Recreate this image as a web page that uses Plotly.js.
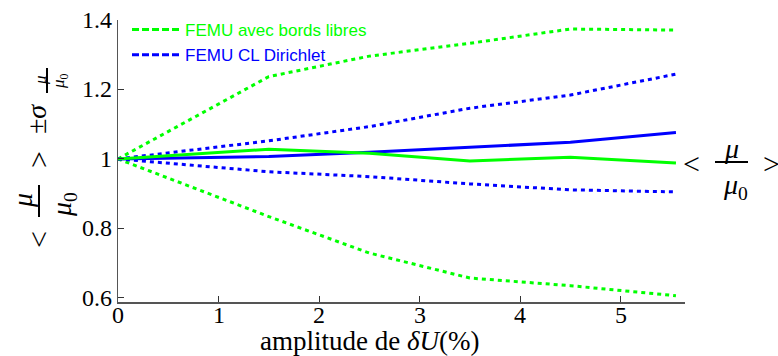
<!DOCTYPE html>
<html>
<head>
<meta charset="utf-8">
<script src="https://cdn.plot.ly/plotly-3.0.1.min.js"></script>
<style>html,body{margin:0;padding:0;background:#fff;}#chart{width:778px;height:356px;}</style>
</head>
<body>
<div id="chart"></div>
<script>
// ---- data ----
const amplitude = [0, 1.5, 2.5, 3.5, 4.5, 5.55];
const libresMean  = [1.0, 1.028, 1.016, 0.994, 1.005, 0.988];
const libresUpper = [1.0, 1.237, 1.296, 1.333, 1.374, 1.371];
const libresLower = [1.0, 0.834, 0.729, 0.657, 0.635, 0.606];
const dirichletMean  = [1.0, 1.007, 1.019, 1.033, 1.048, 1.076];
const dirichletUpper = [1.0, 1.052, 1.093, 1.146, 1.184, 1.244];
const dirichletLower = [1.0, 0.963, 0.949, 0.928, 0.911, 0.905];
const xTicks = [0, 1, 2, 3, 4, 5];
const xTickText = ['0', '1', '2', '3', '4', '5'];
const yTicks = [0.6, 0.8, 1.0, 1.2, 1.4];
const yTickText = ['0.6', '0.8', '1', '1.2', '1.4'];
const seriesNames = ['FEMU avec bords libres', 'FEMU CL Dirichlet'];
const xTitle = 'amplitude de <i>δU</i>(%)';

const GREEN = '#00ff00', BLUE = '#0000ff';
const DOT = '4px,4px';
const SERIF = 'Liberation Serif';

const W = 778, H = 356, ML = 118, MR = 93, MT = 20, MB = 54;
const PW = W - ML - MR, PH = H - MT - MB;
const px = v => (v - ML) / PW;
const py = v => (H - MB - v) / PH;

const traces = [
  {x: amplitude, y: libresUpper, mode: 'lines', line: {color: GREEN, width: 3, dash: DOT}, showlegend: false},
  {x: amplitude, y: libresLower, mode: 'lines', line: {color: GREEN, width: 3, dash: DOT}, showlegend: false},
  {x: amplitude, y: dirichletUpper, mode: 'lines', line: {color: BLUE, width: 3, dash: DOT}, showlegend: false},
  {x: amplitude, y: dirichletLower, mode: 'lines', line: {color: BLUE, width: 3, dash: DOT}, showlegend: false},
  {x: amplitude, y: dirichletMean, mode: 'lines', line: {color: BLUE, width: 3}, showlegend: false},
  {x: amplitude, y: libresMean, mode: 'lines', line: {color: GREEN, width: 3}, showlegend: false},
  {x: [null], y: [null], mode: 'lines', line: {color: GREEN, width: 3, dash: '7px,3px'},
   name: '<span style="color:' + GREEN + '">' + seriesNames[0] + '</span>'},
  {x: [null], y: [null], mode: 'lines', line: {color: BLUE, width: 3, dash: '7px,3px'},
   name: '<span style="color:' + BLUE + '">' + seriesNames[1] + '</span>'}
];

function ann(text, x, y, size, angle) {
  return {text: text, xref: 'paper', yref: 'paper', x: px(x), y: py(y),
    xanchor: 'center', yanchor: 'middle', showarrow: false, textangle: angle || 0,
    font: {family: SERIF, size: size, color: '#000'}};
}
function hline(x0, x1, y) {
  return {type: 'line', xref: 'paper', yref: 'paper', x0: px(x0), x1: px(x1), y0: py(y), y1: py(y),
    line: {color: '#000', width: 2}};
}
function vline(x, y0, y1) {
  return {type: 'line', xref: 'paper', yref: 'paper', x0: px(x), x1: px(x), y0: py(y0), y1: py(y1),
    line: {color: '#000', width: 2}};
}

const annotations = [
  // x-axis title
  ann(xTitle, 370, 341, 27, 0),
  // y-axis title: < mu/mu0 > ± sigma_{mu/mu0}  (rotated)
  ann('&lt;', 38, 240, 30, -90),
  ann('<i>μ</i>', 22, 201, 28, -90),
  ann('<i>μ</i><sub>0</sub>', 63, 205, 28, -90),
  ann('&gt;', 38, 160, 30, -90),
  ann('±<i>σ</i>', 36, 119, 28, -90),
  ann('<i>μ</i>', 40, 80, 17, -90),
  ann('<i>μ</i><sub>0</sub>', 60, 81, 17, -90),
  // right label < mu/mu0 >
  ann('&lt;', 691, 163, 30, 0),
  ann('<i>μ</i>', 731, 148, 28, 0),
  ann('<i>μ</i><sub>0</sub>', 735, 186, 28, 0),
  ann('&gt;', 771, 163, 30, 0)
];
// x tick labels placed through the x scale
xTicks.forEach((t, i) => annotations.push({
  text: xTickText[i], xref: 'x', yref: 'paper', x: t, y: py(315),
  xanchor: 'center', yanchor: 'middle', showarrow: false,
  font: {family: SERIF, size: 24, color: '#000'}
}));
// y tick labels placed through the y scale
yTicks.forEach((t, i) => annotations.push({
  text: yTickText[i], xref: 'paper', yref: 'y', x: px(114), y: t,
  xanchor: 'right', yanchor: 'middle', showarrow: false,
  font: {family: SERIF, size: 24, color: '#000'}
}));

const shapes = [
  vline(39, 185, 217),
  vline(47, 68, 93),
  hline(715, 748, 162)
];

const layout = {
  width: W, height: H,
  margin: {l: ML, r: MR, t: MT, b: MB, pad: 0},
  paper_bgcolor: '#fff', plot_bgcolor: '#fff',
  font: {family: SERIF, color: '#000'},
  showlegend: true,
  legend: {x: px(127), y: py(12), xanchor: 'left', yanchor: 'top', itemwidth: 48,
    bgcolor: 'rgba(0,0,0,0)', borderwidth: 0, tracegroupgap: 0,
    font: {family: 'Liberation Sans', size: 17}},
  xaxis: {range: [0, 5.64], tickvals: xTicks, showticklabels: false,
    showline: true, linecolor: '#555', linewidth: 1.5, ticks: 'inside', ticklen: 6,
    tickcolor: '#333', tickwidth: 1, showgrid: false, zeroline: false},
  yaxis: {range: [0.588, 1.4], tickvals: yTicks, showticklabels: false,
    showline: true, linecolor: '#555', linewidth: 1.5, ticks: 'inside', ticklen: 6,
    tickcolor: '#333', tickwidth: 1, showgrid: false, zeroline: false},
  annotations: annotations,
  shapes: shapes
};

Plotly.newPlot('chart', traces, layout, {displayModeBar: false, staticPlot: true});
</script>
</body>
</html>
